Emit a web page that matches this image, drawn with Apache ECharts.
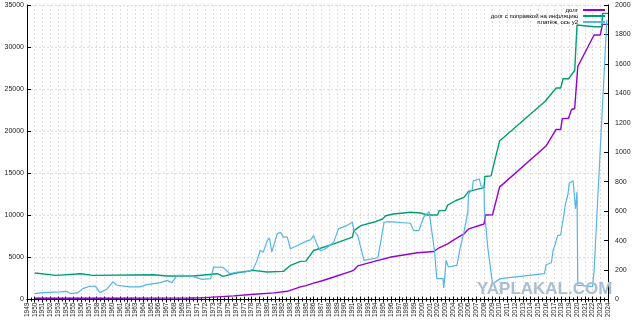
<!DOCTYPE html>
<html><head><meta charset="utf-8">
<script src="https://cdn.jsdelivr.net/npm/echarts@6/dist/echarts.min.js"></script>
<style>html,body{margin:0;padding:0;background:#fff}#c{width:640px;height:320px}</style>
</head><body><div id="c"></div>
<script>
// ---- data ----
const seriesNames = ['долг', 'долг с поправкой на инфляцию', 'платёж, ось y2'];

const debtYears  = [1950,1955,1960,1965,1970,1971.4,1975.7,1978.3,1980.9,1982.6,1984.3,1985,1986,1987,1988.6,1990.8,1991.2,1991.7,1994.3,1996,1999.4,2001.5,2002.2,2003.3,2004.3,2005.4,2006,2008,2008.2,2009.1,2010,2016,2017.3,2017.9,2018.1,2018.9,2019.3,2019.7,2020.1,2022.2,2023.0,2023.3,2024];
const debtValues = [150,150,160,170,180,200,430,630,790,980,1500,1650,1950,2200,2680,3350,3500,4000,4650,5050,5560,5710,6150,6620,7210,7800,8390,8980,10050,10080,13360,18240,20210,20210,21500,21550,22580,22700,27690,31440,31440,32700,32700];

const realYears  = [1950,1952.8,1955.9,1957.5,1965.3,1967.1,1970.5,1973.6,1974.3,1976.2,1978.2,1980,1982.1,1983,1984.3,1985,1986,1988.6,1991,1991.2,1992.1,1993.7,1994.9,1995.3,1996.3,1998.5,1999.8,2000.7,2002,2002.2,2003,2003.3,2004.3,2005.4,2006,2008,2008.1,2008.9,2010,2015.9,2017.3,2017.9,2018.2,2018.9,2019.7,2020.0,2022.2,2023.2,2023.3,2024];
const realValues = [3150,2870,3070,2870,2950,2800,2800,3070,2750,3190,3460,3270,3350,4050,4530,4560,5830,6620,7410,8190,8780,9180,9570,9960,10170,10370,10280,10050,10050,10560,10560,11230,11740,12140,12850,13300,14620,14700,18830,23560,25140,25140,26240,26240,27220,32620,32420,32420,34000,34000];

const payYears  = [1950,1951.1,1953.3,1954.2,1954.6,1955.5,1956.2,1957.1,1957.8,1958.4,1959.3,1960.1,1960.6,1962.3,1963.6,1964.5,1966.2,1967.1,1967.7,1968.4,1969.2,1970.1,1971,1971.6,1972.7,1973.1,1974.3,1975.2,1976.2,1977.2,1978.2,1978.7,1979.1,1979.5,1980.0,1980.3,1980.6,1981.3,1981.7,1982.1,1982.6,1983.0,1983.9,1985.2,1985.6,1986.0,1986.5,1986.9,1987.5,1988.6,1989.2,1990.3,1991.0,1991.2,1991.7,1992.5,1994.3,1995.1,1995.6,1998.5,1998.9,1999.6,2000.2,2000.9,2001.1,2001.6,2001.9,2002.7,2002.8,2003.1,2003.4,2004.5,2004.9,2005.4,2005.9,2006.0,2006.5,2006.6,2007.4,2007.6,2008.0,2008.05,2008.5,2009.0,2009.1,2010.1,2015.8,2016.0,2016.7,2016.9,2017.2,2017.5,2017.9,2018.1,2018.3,2018.5,2018.8,2019.0,2019.5,2019.8,2020.0,2020.1,2022.0,2022.2,2023.85];
const payValues = [40,47,52,55,40,45,74,90,92,47,70,120,97,86,86,101,115,130,115,164,164,160,147,137,142,221,218,176,187,187,205,266,333,322,400,417,322,446,457,424,424,345,367,400,405,434,367,330,345,390,480,502,525,468,434,266,284,525,529,518,468,468,559,597,590,333,142,142,79,266,221,232,345,457,593,716,750,806,818,772,770,600,345,142,108,142,176,236,250,333,378,434,439,513,570,649,705,790,806,615,732,97,88,190,1900];

const xMin = 1949, xMax = 2024;
const leftTicks = [0,5000,10000,15000,20000,25000,30000,35000];
const rightTicks = [0,200,400,600,800,1000,1200,1400,1600,1800,2000];

// ---- build ----
const zip = (a,b) => a.map((v,i) => [v, b[i]]);
const colors = ['#9400d3', '#009e73', '#56b4e9'];
const font = 'Liberation Sans, Arial, sans-serif';
const grid = {left: 27, right: 32, top: 5, bottom: 19};
const dash = {color: '#dcdcdc', type: [2, 2], width: 1};

const chart = echarts.init(document.getElementById('c'), null, {renderer: 'canvas'});
chart.setOption({
  animation: false,
  backgroundColor: '#fff',
  color: colors,
  grid: grid,
  legend: {
    show: true, orient: 'vertical', right: 35, top: 7, align: 'right', padding: 0,
    itemWidth: 22, itemHeight: 2, itemGap: 0, icon: 'rect',
    textStyle: {fontSize: 6, lineHeight: 4.6, color: '#000', fontFamily: font},
    data: seriesNames
  },
  xAxis: [{
    type: 'value', min: xMin, max: xMax, interval: 1, position: 'bottom',
    axisLine: {show: true, lineStyle: {color: '#000', width: 1}},
    axisTick: {show: true, inside: true, length: 3, lineStyle: {color: '#000'}},
    minorTick: {show: true, splitNumber: 2, length: 2, lineStyle: {color: '#000'}},
    axisLabel: {rotate: 90, fontSize: 6.5, color: '#222', margin: 3, fontFamily: font,
      formatter: v => String(v)},
    splitLine: {show: true, lineStyle: dash}
  }, {
    type: 'value', min: xMin, max: xMax, interval: 1, position: 'top',
    axisLine: {show: true, lineStyle: {color: '#000', width: 1}},
    axisTick: {show: true, inside: true, length: 3, lineStyle: {color: '#000'}},
    minorTick: {show: true, splitNumber: 2, length: 2, lineStyle: {color: '#000'}},
    axisLabel: {show: false}, splitLine: {show: false}
  }],
  yAxis: [{
    type: 'value', min: leftTicks[0], max: leftTicks[leftTicks.length-1], interval: leftTicks[1]-leftTicks[0],
    axisLine: {show: true, lineStyle: {color: '#000', width: 1}},
    axisTick: {show: true, inside: true, length: 4, lineStyle: {color: '#000'}},
    axisLabel: {fontSize: 7, color: '#222', margin: 3, fontFamily: font, formatter: v => String(v)},
    splitLine: {show: true, lineStyle: dash}
  }, {
    type: 'value', min: rightTicks[0], max: rightTicks[rightTicks.length-1], interval: rightTicks[1]-rightTicks[0], position: 'right',
    axisLine: {show: true, lineStyle: {color: '#000', width: 1}},
    axisTick: {show: true, inside: true, length: 4, lineStyle: {color: '#000'}},
    axisLabel: {fontSize: 7, color: '#222', margin: 7, fontFamily: font, formatter: v => String(v)},
    splitLine: {show: false}
  }],
  series: [
    {name: seriesNames[0], type: 'line', data: zip(debtYears, debtValues), showSymbol: false, lineStyle: {width: 1.4}},
    {name: seriesNames[1], type: 'line', data: zip(realYears, realValues), showSymbol: false, lineStyle: {width: 1.4}},
    {name: seriesNames[2], type: 'line', yAxisIndex: 1, data: zip(payYears, payValues), showSymbol: false, lineStyle: {width: 1.2}}
  ],
  graphic: [{
    type: 'text', left: 477, top: 281, z: 100,
    style: {text: 'YAPLAKAL.COM', fill: '#a9bfd1', font: 'bold 17px ' + font}
  }]
});
</script></body></html>
